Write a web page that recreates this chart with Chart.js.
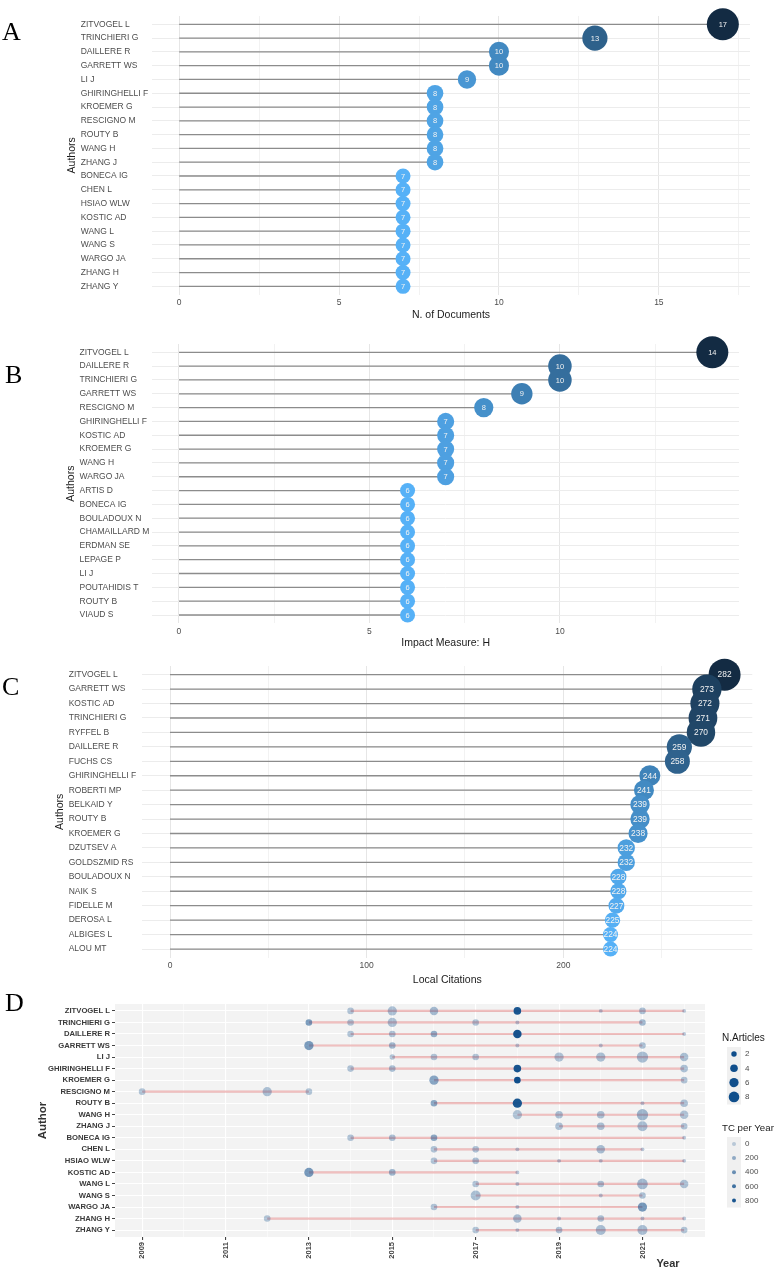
<!DOCTYPE html>
<html lang="en">
<head>
<meta charset="UTF-8">
<title>Most relevant authors</title>
<script src="https://cdn.jsdelivr.net/npm/chart.js"></script>
<style>
  body { margin: 0; background: #fff; width: 778px; height: 1270px; position: relative; overflow: hidden; }
  canvas { position: absolute; left: 0; }
  .tag { position: absolute; font-family: "Liberation Serif", "Times New Roman", serif; font-size: 26px; line-height: 26px; color: #000; }
</style>
</head>
<body>
<canvas id="chartA" width="778" height="325" style="top:0"></canvas>
<canvas id="chartB" width="778" height="325" style="top:325px"></canvas>
<canvas id="chartC" width="778" height="342" style="top:650px"></canvas>
<canvas id="chartD" width="778" height="278" style="top:992px"></canvas>
<div class="tag" style="left:2px;top:19px">A</div>
<div class="tag" style="left:5px;top:362px">B</div>
<div class="tag" style="left:2px;top:674px">C</div>
<div class="tag" style="left:5px;top:990px">D</div>

<script>
// ---- data ----
const authorsDocs = ['ZITVOGEL L', 'TRINCHIERI G', 'DAILLERE R', 'GARRETT WS', 'LI J', 'GHIRINGHELLI F',
  'KROEMER G', 'RESCIGNO M', 'ROUTY B', 'WANG H', 'ZHANG J', 'BONECA IG', 'CHEN L', 'HSIAO WLW',
  'KOSTIC AD', 'WANG L', 'WANG S', 'WARGO JA', 'ZHANG H', 'ZHANG Y'];
const nDocs = [17, 13, 10, 10, 9, 8, 8, 8, 8, 8, 8, 7, 7, 7, 7, 7, 7, 7, 7, 7];

const authorsH = ['ZITVOGEL L', 'DAILLERE R', 'TRINCHIERI G', 'GARRETT WS', 'RESCIGNO M', 'GHIRINGHELLI F',
  'KOSTIC AD', 'KROEMER G', 'WANG H', 'WARGO JA', 'ARTIS D', 'BONECA IG', 'BOULADOUX N', 'CHAMAILLARD M',
  'ERDMAN SE', 'LEPAGE P', 'LI J', 'POUTAHIDIS T', 'ROUTY B', 'VIAUD S'];
const hIndex = [14, 10, 10, 9, 8, 7, 7, 7, 7, 7, 6, 6, 6, 6, 6, 6, 6, 6, 6, 6];

const authorsLC = ['ZITVOGEL L', 'GARRETT WS', 'KOSTIC AD', 'TRINCHIERI G', 'RYFFEL B', 'DAILLERE R',
  'FUCHS CS', 'GHIRINGHELLI F', 'ROBERTI MP', 'BELKAID Y', 'ROUTY B', 'KROEMER G', 'DZUTSEV A',
  'GOLDSZMID RS', 'BOULADOUX N', 'NAIK S', 'FIDELLE M', 'DEROSA L', 'ALBIGES L', 'ALOU MT'];
const localCites = [282, 273, 272, 271, 270, 259, 258, 244, 241, 239, 239, 238, 232, 232, 228, 228, 227, 225, 224, 224];

// production over time: one row per author
const prodAuthors = authorsDocs;
const prodYears = [
  [2014, 2015, 2016, 2018, 2020, 2021, 2022],
  [2013, 2014, 2015, 2017, 2018, 2021],
  [2014, 2015, 2016, 2018, 2022],
  [2013, 2015, 2018, 2020, 2021],
  [2015, 2016, 2017, 2019, 2020, 2021, 2022],
  [2014, 2015, 2018, 2022],
  [2016, 2018, 2022],
  [2009, 2012, 2013],
  [2016, 2018, 2021, 2022],
  [2018, 2019, 2020, 2021, 2022],
  [2019, 2020, 2021, 2022],
  [2014, 2015, 2016, 2022],
  [2016, 2017, 2018, 2020, 2021],
  [2016, 2017, 2019, 2020, 2022],
  [2013, 2015, 2018],
  [2017, 2018, 2020, 2021, 2022],
  [2017, 2020, 2021],
  [2016, 2018, 2021],
  [2012, 2018, 2019, 2020, 2021, 2022],
  [2017, 2018, 2019, 2020, 2021, 2022]
];
const prodArticles = [
  [3, 6, 5, 4, 1, 3, 1],
  [3, 3, 6, 3, 1, 3],
  [3, 3, 3, 5, 1],
  [6, 3, 1, 1, 3],
  [2, 3, 3, 6, 6, 9, 5],
  [3, 3, 4, 4],
  [6, 3, 3],
  [3, 6, 3],
  [3, 6, 1, 4],
  [6, 4, 4, 9, 5],
  [4, 4, 7, 3],
  [3, 3, 3, 1],
  [3, 3, 1, 5, 1],
  [3, 3, 1, 1, 1],
  [6, 3, 1],
  [3, 1, 3, 8, 5],
  [7, 1, 3],
  [3, 1, 6],
  [3, 5, 1, 3, 1, 1],
  [3, 1, 3, 7, 7, 3]
];
const prodTC = [
  [60, 80, 120, 800, 40, 90, 30],
  [320, 60, 80, 70, 40, 140],
  [60, 80, 200, 820, 30],
  [330, 150, 40, 40, 90],
  [60, 70, 60, 70, 90, 100, 90],
  [70, 100, 820, 80],
  [260, 850, 70],
  [60, 80, 60],
  [250, 800, 40, 80],
  [60, 90, 90, 150, 70],
  [80, 90, 100, 70],
  [70, 90, 250, 40],
  [70, 80, 40, 110, 40],
  [70, 90, 40, 40, 40],
  [350, 160, 40],
  [70, 40, 90, 130, 80],
  [90, 40, 90],
  [70, 40, 350],
  [60, 110, 40, 90, 40, 40],
  [60, 40, 80, 100, 100, 60]
];
const yearTicks = [2009, 2010, 2011, 2012, 2013, 2014, 2015, 2016, 2017, 2018, 2019, 2020, 2021, 2022];
const articleBreaks = [2, 4, 6, 8];
const tcBreaks = [0, 200, 400, 600, 800];

// ---- helpers ----
const SANS = '"Liberation Sans", Arial, sans-serif';
Chart.defaults.font.family = SANS;
Chart.defaults.animation = false;

const LIGHT = [86, 177, 247], DARK = [19, 43, 67];
function gradient(v, min, max) {
  const t = (v - min) / (max - min);
  return 'rgb(' + LIGHT.map((l, i) => Math.round(l + (DARK[i] - l) * t)).join(',') + ')';
}
const articleRadius = n => 0.1 + 1.85 * Math.sqrt(n);
const tcColor = tc => `rgba(16,78,139,${0.25 + 0.75 * tc / 850})`;

const valueLabels = {
  id: 'valueLabels',
  afterDatasetsDraw(chart, args, opts) {
    const ctx = chart.ctx;
    const pts = chart.data.datasets[0].data;
    ctx.save();
    ctx.fillStyle = '#f2f2f2';
    ctx.font = `${opts.size}px ${SANS}`;
    ctx.textAlign = 'center';
    ctx.textBaseline = 'middle';
    chart.getDatasetMeta(0).data.forEach((el, i) => ctx.fillText(pts[i].x, el.x, el.y + 0.5));
    ctx.restore();
  }
};

// rotated y-axis title placed at a fixed x
const yTitle = {
  id: 'yTitle',
  afterDraw(chart, args, opts) {
    const ctx = chart.ctx, a = chart.chartArea;
    ctx.save();
    ctx.translate(opts.x, (a.top + a.bottom) / 2);
    ctx.rotate(-Math.PI / 2);
    ctx.fillStyle = opts.color || '#1a1a1a';
    ctx.font = `${opts.weight || 'normal'} ${opts.size}px ${SANS}`;
    ctx.textAlign = 'center';
    ctx.textBaseline = 'middle';
    ctx.fillText(opts.text, 0, 0);
    ctx.restore();
  }
};

function lollipop(id, names, values, o) {
  const vmin = Math.min(...values), vmax = Math.max(...values);
  const radius = v => 7.5 + (v - vmin) / (vmax - vmin) * 8.5;
  const stems = values.map((v, i) => ({
    type: 'line', data: [{x: 0, y: i}, {x: v, y: i}],
    borderColor: '#8c8c8c', borderWidth: 1.3, pointRadius: 0, order: 2
  }));
  return new Chart(document.getElementById(id), {
    type: 'scatter',
    data: {
      datasets: [{
        data: values.map((v, i) => ({x: v, y: i})),
        order: 1, clip: false,
        pointRadius: c => radius(c.raw.x),
        pointHoverRadius: c => radius(c.raw.x),
        pointBackgroundColor: c => gradient(c.raw.x, vmin, vmax),
        pointBorderWidth: 0
      }, ...stems]
    },
    options: {
      responsive: false,
      layout: {padding: {left: o.labelX, top: o.top, right: o.right, bottom: 0}},
      plugins: {
        legend: {display: false}, tooltip: {enabled: false}, valueLabels: {size: o.size},
        yTitle: {text: 'Authors', x: o.titleX, size: 10.5}
      },
      scales: {
        x: {
          type: 'linear', min: o.xmin, max: o.xmax,
          afterBuildTicks: s => { s.ticks = o.grid.map(v => ({value: v})); },
          afterFit: s => { s.height = o.xh; },
          ticks: {
            autoSkip: false, maxRotation: 0, padding: 3, color: '#4d4d4d', font: {size: 8.5},
            callback: v => (v % o.major === 0 ? v : '')
          },
          grid: {drawTicks: false, color: c => (c.tick.value % o.major === 0 ? '#e6e6e6' : '#f2f2f2')},
          border: {display: false},
          title: {display: true, text: o.title, color: '#1a1a1a', font: {size: 10.5}, padding: {top: 0, bottom: o.titlePad}}
        },
        y: {
          type: 'linear', reverse: true, min: -0.6, max: names.length - 0.4,
          afterBuildTicks: s => { s.ticks = names.map((_, i) => ({value: i})); },
          afterFit: s => { s.width = o.left - o.labelX; },
          ticks: {autoSkip: false, crossAlign: 'far', padding: 4, color: '#4d4d4d', font: {size: 8.5}, callback: v => names[v]},
          grid: {drawTicks: false, color: '#ececec'},
          border: {display: false}
        }
      }
    },
    plugins: [valueLabels, yTitle]
  });
}

lollipop('chartA', authorsDocs, nDocs, {
  xmin: -0.85, xmax: 17.85, grid: [0, 2.5, 5, 7.5, 10, 12.5, 15, 17.5], major: 5,
  title: 'N. of Documents', titlePad: 3.7, xh: 30.4, left: 152, labelX: 80.7, titleX: 72,
  top: 6.4, right: 28, size: 7.5
});
lollipop('chartB', authorsH, hIndex, {
  xmin: -0.7, xmax: 14.7, grid: [0, 2.5, 5, 7.5, 10, 12.5], major: 5,
  title: 'Impact Measure: H', titlePad: 0.7, xh: 26.7, left: 152.3, labelX: 79.5, titleX: 71,
  top: 19, right: 39, size: 7.5
});
lollipop('chartC', authorsLC, localCites, {
  xmin: -14.1, xmax: 296.1, grid: [0, 50, 100, 150, 200, 250], major: 100,
  title: 'Local Citations', titlePad: 5.7, xh: 34.3, left: 142.3, labelX: 68.7, titleX: 60,
  top: 15, right: 25.7, size: 8.4
});

// ---- panel D: production over time ----
const prodPoints = [];
prodYears.forEach((ys, i) => ys.forEach((yr, j) =>
  prodPoints.push({x: yr, y: i, n: prodArticles[i][j], tc: prodTC[i][j]})));
const prodLines = prodYears.map((ys, i) => ({
  type: 'line', data: [{x: Math.min(...ys), y: i}, {x: Math.max(...ys), y: i}],
  borderColor: 'rgba(222,112,112,0.45)', borderWidth: 2.2, pointRadius: 0, order: 2
}));

const panelBg = {
  id: 'panelBg',
  beforeDraw(chart) {
    const a = chart.chartArea, ctx = chart.ctx;
    ctx.save();
    ctx.fillStyle = '#f3f3f3';
    ctx.fillRect(a.left, a.top, a.right - a.left, a.bottom - a.top);
    ctx.restore();
  }
};

const prodLegend = {
  id: 'prodLegend',
  afterDraw(chart) {
    const ctx = chart.ctx;
    ctx.save();
    ctx.textBaseline = 'middle';
    // axis title Year
    ctx.fillStyle = '#333';
    ctx.font = `bold 11px ${SANS}`;
    ctx.textAlign = 'center';
    ctx.fillText('Year', 668, 272);
    ctx.textAlign = 'left';
    // N.Articles
    ctx.fillStyle = '#1a1a1a';
    ctx.font = `10px ${SANS}`;
    ctx.fillText('N.Articles', 722, 46);
    ctx.fillStyle = '#f0f0f0';
    ctx.fillRect(727, 55, 14, 57.5);
    articleBreaks.forEach((n, k) => {
      const cy = 62 + k * 14.3;
      ctx.fillStyle = 'rgb(16,78,139)';
      ctx.beginPath();
      ctx.arc(734, cy, articleRadius(n), 0, Math.PI * 2);
      ctx.fill();
      ctx.fillStyle = '#4d4d4d';
      ctx.font = `8px ${SANS}`;
      ctx.fillText(String(n), 745, cy);
    });
    // TC per Year
    ctx.fillStyle = '#1a1a1a';
    ctx.font = `9.7px ${SANS}`;
    ctx.fillText('TC per Year', 722, 136);
    ctx.fillStyle = '#f0f0f0';
    ctx.fillRect(727, 145, 14, 70.5);
    tcBreaks.forEach((tc, k) => {
      const cy = 152 + k * 14.1;
      ctx.fillStyle = tcColor(tc);
      ctx.beginPath();
      ctx.arc(734, cy, 2, 0, Math.PI * 2);
      ctx.fill();
      ctx.fillStyle = '#4d4d4d';
      ctx.font = `8px ${SANS}`;
      ctx.fillText(String(tc), 745, cy);
    });
    ctx.restore();
  }
};

new Chart(document.getElementById('chartD'), {
  type: 'scatter',
  data: {
    datasets: [{
      data: prodPoints, order: 1, clip: false,
      pointRadius: c => articleRadius(c.raw.n),
      pointHoverRadius: c => articleRadius(c.raw.n),
      pointBackgroundColor: c => tcColor(c.raw.tc),
      pointBorderWidth: 0
    }, ...prodLines]
  },
  options: {
    responsive: false,
    layout: {padding: {left: 0, top: 12, right: 73, bottom: 0}},
    plugins: {
      legend: {display: false}, tooltip: {enabled: false},
      yTitle: {text: 'Author', x: 43, size: 11.5, weight: 'bold', color: '#333'}
    },
    scales: {
      x: {
        type: 'linear', min: 2008.35, max: 2022.5,
        afterBuildTicks: s => { s.ticks = yearTicks.map(v => ({value: v})); },
        afterFit: s => { s.height = 33; },
        ticks: {
          autoSkip: false, minRotation: 90, maxRotation: 90, padding: 2, color: '#444',
          font: {size: 7.5, weight: 'bold'}, callback: v => (v % 2 === 1 ? String(v) : '')
        },
        grid: {
          color: '#ffffff', lineWidth: c => (c.tick.value % 2 === 1 ? 1.1 : 0.5),
          tickLength: 3, tickColor: c => (c.tick.value % 2 === 1 ? '#444' : 'rgba(0,0,0,0)')
        },
        border: {display: false}
      },
      y: {
        type: 'linear', reverse: true, min: -0.6, max: prodAuthors.length - 0.4,
        afterBuildTicks: s => { s.ticks = prodAuthors.map((_, i) => ({value: i})); },
        afterFit: s => { s.width = 115; },
        ticks: {autoSkip: false, padding: 2, color: '#3a3a3a', font: {size: 7.7, weight: 'bold'}, callback: v => prodAuthors[v]},
        grid: {color: '#ffffff', lineWidth: 1, tickLength: 3, tickColor: '#444'},
        border: {display: false}
      }
    }
  },
  plugins: [panelBg, prodLegend, yTitle]
});
</script>
</body>
</html>
